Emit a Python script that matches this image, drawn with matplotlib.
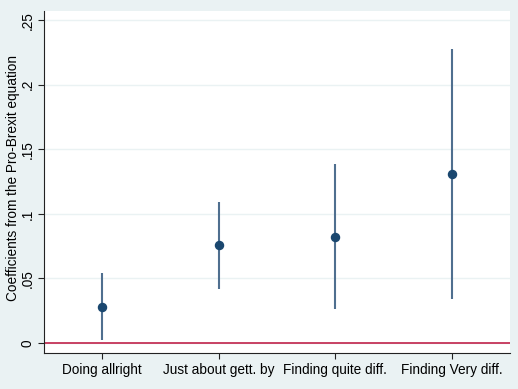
import matplotlib
matplotlib.use("Agg")
import matplotlib.pyplot as plt

plt.rcParams['font.family'] = ['Liberation Sans', 'DejaVu Sans']

# data
categories = ["Doing allright", "Just about gett. by", "Finding quite diff.", "Finding Very diff."]
coef = [0.028, 0.076, 0.082, 0.131]
ci_low = [0.0025, 0.042, 0.026, 0.034]
ci_high = [0.054, 0.109, 0.139, 0.228]
yticks = [0, 0.05, 0.1, 0.15, 0.2, 0.25]
ytick_labels = ["0", ".05", ".1", ".15", ".2", ".25"]

bg = "#EAF2F3"
navy = "#1A476F"
ci_col = "#4F6F8F"
red = "#C0234A"

fig = plt.figure(figsize=(5.18, 3.89), dpi=100, facecolor=bg)
ax = fig.add_axes([0.0849, 0.0925, 0.9, 0.879])
ax.set_facecolor("white")

xs = list(range(1, len(categories) + 1))
ax.vlines(xs, ci_low, ci_high, color=ci_col, linewidth=1.5, zorder=3)
ax.plot(xs, coef, "o", color=navy, markersize=5.8, zorder=4)
ax.axhline(0, color=red, linewidth=1.2, zorder=2)

fs = 9.8
ax.set_xlim(0.5, 4.5)
ax.set_ylim(-0.0077, 0.257)
ax.set_xticks(xs)
ax.set_xticklabels(categories, fontsize=fs)
ax.set_yticks(yticks)
ax.set_yticklabels(ytick_labels, fontsize=fs, rotation=90, va="center")
ax.yaxis.grid(True, color=bg, linewidth=1.0, zorder=0)
ax.set_axisbelow(True)
ax.set_ylabel("Coefficients from the Pro-Brexit equation", fontsize=fs)
ax.yaxis.set_label_coords(-0.052, 0.513)

for s in ["top", "right"]:
    ax.spines[s].set_visible(False)
for s in ["left", "bottom"]:
    ax.spines[s].set_color("#222222")
    ax.spines[s].set_linewidth(0.8)
ax.tick_params(length=4, width=0.8, color="#222222", pad=3)

fig.savefig("out.png", dpi=100, facecolor=bg)
